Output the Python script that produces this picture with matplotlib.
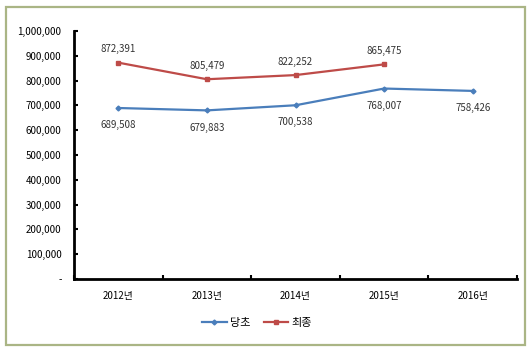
import matplotlib.pyplot as plt
from matplotlib.patches import Rectangle
from matplotlib.ticker import FuncFormatter

plt.rcParams['font.family'] = ['Noto Sans CJK KR', 'DejaVu Sans']

years = ['2012년', '2013년', '2014년', '2015년', '2016년']
initial = [689508, 679883, 700538, 768007, 758426]
final = [872391, 805479, 822252, 865475]

blue = '#4a7ebb'
red = '#be4b48'

fig = plt.figure(figsize=(5.3, 3.53), dpi=100)
fig.patches.append(Rectangle((6 / 530, 1 - 345 / 353), 519 / 530, 338 / 353,
                             transform=fig.transFigure, fill=False,
                             edgecolor='#aab585', linewidth=1.6))

ax = fig.add_axes([74 / 530, 1 - 279 / 353, 443 / 530, 248 / 353])
ax.plot(range(len(initial)), initial, color=blue, linewidth=1.6, marker='D', markersize=2.5, label='당초')
ax.plot(range(len(final)), final, color=red, linewidth=1.6, marker='s', markersize=3, label='최종')

for i, v in enumerate(initial):
    ax.annotate(f'{v:,}', (i, v), xytext=(0, -16), textcoords='offset points',
                ha='center', va='bottom', fontsize=7, color='#333333')
for i, v in enumerate(final):
    ax.annotate(f'{v:,}', (i, v), xytext=(0, 6), textcoords='offset points',
                ha='center', va='bottom', fontsize=7, color='#333333')

ax.set_xlim(-0.5, 4.5)
ax.set_ylim(0, 1000000)
ax.set_yticks(range(0, 1000001, 100000))
ax.yaxis.set_major_formatter(FuncFormatter(lambda v, p: '-' if v == 0 else f'{int(v):,}'))
ax.set_xticks(range(5))
ax.set_xticklabels(years)
ax.set_xticks([-0.5 + k for k in range(6)], minor=True)
ax.tick_params(axis='x', which='major', length=0, pad=9, labelsize=7)
ax.tick_params(axis='x', which='minor', length=3, width=1.5, direction='in')
ax.tick_params(axis='y', length=3, width=1.5, direction='in', pad=9, labelsize=7)
for s in ['top', 'right']:
    ax.spines[s].set_visible(False)
for s in ['left', 'bottom']:
    ax.spines[s].set_linewidth(2)

fig.legend(loc='center', bbox_to_anchor=(257 / 530, 1 - 323 / 353), ncol=2,
           frameon=False, fontsize=8, handlelength=2.2, columnspacing=1.2,
           handletextpad=0.3)

fig.savefig('out.png', dpi=100)
